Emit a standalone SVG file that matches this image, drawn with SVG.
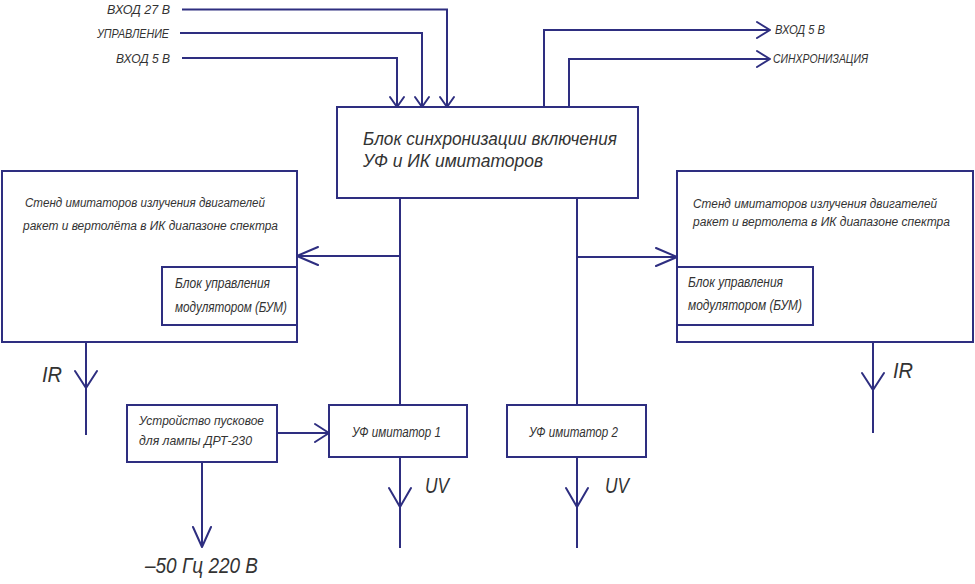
<svg xmlns="http://www.w3.org/2000/svg" width="975" height="584" viewBox="0 0 975 584">
<style>
.b{fill:#fff;stroke:#2e2e80;stroke-width:2}
.c{fill:none;stroke:#2e2e80;stroke-width:2}
.h{fill:none;stroke:#2e2e80;stroke-width:2;stroke-linecap:round;stroke-linejoin:round}
text{font-family:"Liberation Sans","DejaVu Sans",sans-serif;font-style:italic;fill:#333;}
.s{font-size:13px}
.m{font-size:14px}
.n{font-size:12.5px}
.l{font-size:18px}
.x{font-size:22px}
</style>
<rect width="975" height="584" fill="#fff"/>
<g id="connectors">
<path class="c" d="M182 9.5H447V107"/>
<path class="c" d="M180 33H422V107"/>
<path class="c" d="M182 58H397V107"/>
<path class="h" d="M390 97L397 107L404 97M415 97L422 107L429 97M440 97L447 107L454 97"/>
<path class="c" d="M544 107V30H770M569 107V59H770"/>
<path class="h" d="M757 22L770 30L757 38M757 51L770 59L757 67"/>
<path class="c" d="M400 198V405M577 198V405"/>
<path class="c" d="M400 256H297M577 257H677"/>
<path class="h" d="M318 247L297 256L318 265M656 248L677 257L656 266"/>
<path class="c" d="M86 342V435M873 342V433"/>
<path class="h" d="M75 371L86 388L97 371M862 373L873 390L884 373"/>
<path class="c" d="M277 433H329"/>
<path class="h" d="M315 424L329 433L315 442"/>
<path class="c" d="M400 457V548M577 457V548M202 462V547"/>
<path class="h" d="M389 488L400 507L411 488M566 488L577 507L588 488M193 527L202 547L211 527"/>
</g>
<g id="inputs">
<text class="s" x="107" y="14" textLength="63" lengthAdjust="spacingAndGlyphs">ВХОД 27 В</text>
<text class="s" x="97" y="38" textLength="72" lengthAdjust="spacingAndGlyphs">УПРАВЛЕНИЕ</text>
<text class="s" x="116" y="63" textLength="54" lengthAdjust="spacingAndGlyphs">ВХОД 5 В</text>
</g>
<g id="outputs">
<text class="s" x="775" y="34" textLength="50" lengthAdjust="spacingAndGlyphs">ВХОД 5 В</text>
<text class="s" x="773" y="63" textLength="95" lengthAdjust="spacingAndGlyphs">СИНХРОНИЗАЦИЯ</text>
</g>
<g id="sync">
<rect class="b" x="337" y="107" width="301" height="91"/>
<text class="l" x="363" y="145" textLength="254" lengthAdjust="spacingAndGlyphs">Блок синхронизации включения</text>
<text class="l" x="363" y="167" textLength="180" lengthAdjust="spacingAndGlyphs">УФ и ИК имитаторов</text>
</g>
<g id="stand-left">
<rect class="b" x="2" y="171" width="295" height="171"/>
<text class="n" x="25" y="207" textLength="240" lengthAdjust="spacingAndGlyphs">Стенд имитаторов излучения двигателей</text>
<text class="n" x="23" y="230" textLength="255" lengthAdjust="spacingAndGlyphs">ракет и вертолёта в ИК диапазоне спектра</text>
</g>
<g id="bum-left">
<rect class="b" x="162" y="267" width="135" height="58"/>
<text class="m" x="175" y="288" textLength="95" lengthAdjust="spacingAndGlyphs">Блок управления</text>
<text class="m" x="175" y="312" textLength="112" lengthAdjust="spacingAndGlyphs">модулятором (БУМ)</text>
</g>
<g id="stand-right">
<rect class="b" x="677" y="171" width="296" height="171"/>
<text class="n" x="693" y="208" textLength="244" lengthAdjust="spacingAndGlyphs">Стенд имитаторов излучения двигателей</text>
<text class="n" x="693" y="226" textLength="257" lengthAdjust="spacingAndGlyphs">ракет и вертолета в ИК диапазоне спектра</text>
</g>
<g id="bum-right">
<rect class="b" x="677" y="267" width="136" height="58"/>
<text class="m" x="688" y="287" textLength="95" lengthAdjust="spacingAndGlyphs">Блок управления</text>
<text class="m" x="688" y="310" textLength="114" lengthAdjust="spacingAndGlyphs">модулятором (БУМ)</text>
</g>
<g id="ir-labels">
<text class="x" x="42" y="382" textLength="20" lengthAdjust="spacingAndGlyphs">IR</text>
<text class="x" x="893" y="378" textLength="20" lengthAdjust="spacingAndGlyphs">IR</text>
</g>
<g id="starter">
<rect class="b" x="127" y="405" width="150" height="57"/>
<text class="s" x="139" y="425" textLength="125" lengthAdjust="spacingAndGlyphs">Устройство пусковое</text>
<text class="s" x="139" y="445" textLength="113" lengthAdjust="spacingAndGlyphs">для лампы ДРТ-230</text>
</g>
<g id="uv1">
<rect class="b" x="329" y="405" width="138" height="52"/>
<text class="m" x="352" y="437" textLength="89" lengthAdjust="spacingAndGlyphs">УФ имитатор 1</text>
</g>
<g id="uv2">
<rect class="b" x="507" y="405" width="139" height="52"/>
<text class="m" x="529" y="437" textLength="89" lengthAdjust="spacingAndGlyphs">УФ имитатор 2</text>
</g>
<g id="uv-labels">
<text class="x" x="425" y="493" textLength="24" lengthAdjust="spacingAndGlyphs">UV</text>
<text class="x" x="605" y="493" textLength="24" lengthAdjust="spacingAndGlyphs">UV</text>
</g>
<g id="mains">
<text class="x" x="145" y="573" textLength="113" lengthAdjust="spacingAndGlyphs">–50 Гц 220 В</text>
</g>
</svg>
